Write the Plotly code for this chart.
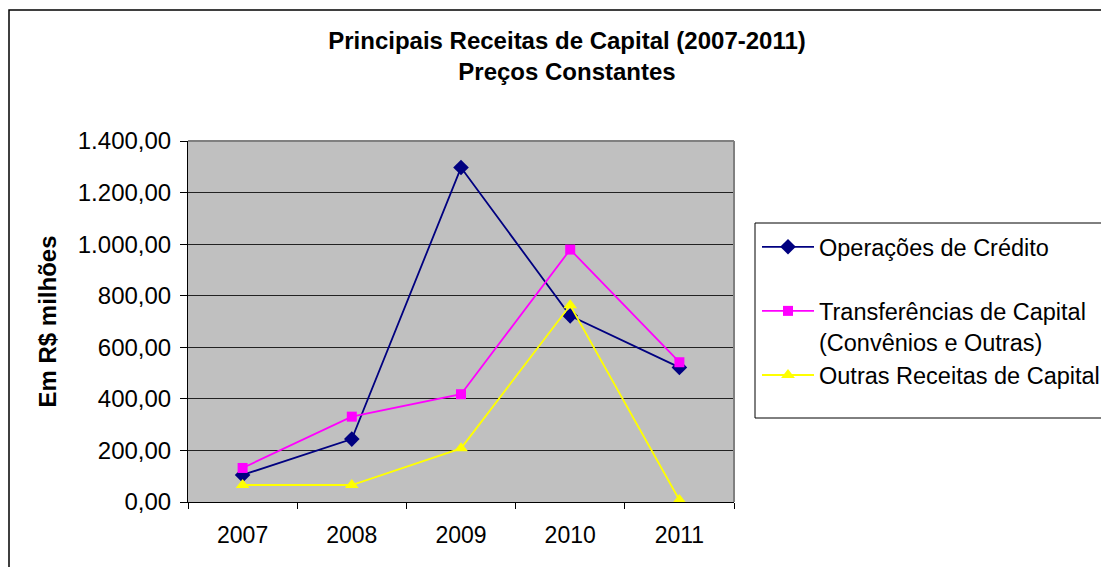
import plotly.graph_objects as go

years = ["2007", "2008", "2009", "2010", "2011"]
operacoes = [105, 244, 1297, 722, 522]
transferencias = [132, 331, 418, 979, 542]
outras = [66, 66, 208, 763, 8]

names = ["Operações de Crédito",
         "Transferências de Capital<br>(Convênios e Outras)",
         "Outras Receitas de Capital"]

FONT = "Liberation Sans, Arial, sans-serif"
OFF = 8  # default page body margin
W, H = 1109 - OFF, 567 - OFF
L, R, T, B = 188 - OFF, 734 - OFF, 141 - OFF, 502 - OFF

fig = go.Figure()
fig.add_trace(go.Scatter(x=years, y=operacoes, name=names[0] + "<br> ", mode="lines+markers",
                         line=dict(color="#000080", width=1.8),
                         marker=dict(symbol="diamond", size=12, color="#000080"),
                         legendgroup="a"))
fig.add_trace(go.Scatter(x=years, y=transferencias, name=names[1], mode="lines+markers",
                         line=dict(color="#FF00FF", width=1.8),
                         marker=dict(symbol="square", size=10, color="#FF00FF"),
                         legendgroup="b"))
fig.add_trace(go.Scatter(x=years, y=outras, name=names[2], mode="lines+markers",
                         line=dict(color="#FFFF00", width=1.8),
                         marker=dict(symbol="triangle-up", size=12, color="#FFFF00"),
                         legendgroup="c"))

def px(x):
    return (x - OFF - L) / (R - L)

def py(y):
    return (B - (y - OFF)) / (B - T)

fig.update_layout(
    width=W, height=H,
    margin=dict(l=L, r=W - R, t=T, b=H - B, autoexpand=False),
    paper_bgcolor="white",
    plot_bgcolor="#C0C0C0",
    separators=",.",
    font=dict(family=FONT, size=23, color="black"),
    title=dict(text="<b>Principais Receitas de Capital (2007-2011)<br>Preços Constantes</b>",
               x=(567 - OFF) / W, xanchor="center", xref="container",
               y=1 - 41 / H, yanchor="top", yref="container",
               font=dict(size=24, family=FONT)),
    showlegend=True,
    legend=dict(x=(757 - OFF) / W, y=1 - (225 - OFF) / H, xref="container", yref="container",
                xanchor="left", yanchor="top",
                bgcolor="rgba(0,0,0,0)", borderwidth=0,
                font=dict(size=23.5, family=FONT),
                tracegroupgap=0, valign="top", itemwidth=52),
    xaxis=dict(type="category", range=[-0.5, 4.5], tickson="boundaries",
               showline=True, linecolor="black", linewidth=1,
               ticks="outside", ticklen=6, tickcolor="black",
               showgrid=False, zeroline=False, ticklabelstandoff=12,
               tickfont=dict(size=23), automargin=False),
    yaxis=dict(range=[0, 1400], dtick=200, tickformat=",.2f",
               showline=True, linecolor="black", linewidth=1,
               ticks="outside", ticklen=7, tickcolor="black",
               gridcolor="#222222", gridwidth=1, zeroline=False,
               ticklabelstandoff=4, automargin=False,
               tickfont=dict(size=24),
               title=dict(text="<b>Em R$ milhões</b>", font=dict(size=24), standoff=14)),
    shapes=[
        dict(type="line", xref="paper", yref="paper", x0=0, x1=1, y0=1, y1=1,
             line=dict(color="#808080", width=2)),
        dict(type="line", xref="paper", yref="paper", x0=1, x1=1, y0=0, y1=1,
             line=dict(color="#808080", width=2)),
        dict(type="rect", xref="paper", yref="paper", x0=px(755), x1=px(1125),
             y0=py(418), y1=py(223), line=dict(color="black", width=1)),
        dict(type="rect", xref="paper", yref="paper", x0=px(9), x1=px(1130),
             y0=py(590), y1=py(10), line=dict(color="black", width=1.5)),
    ],
)

fig.write_html("out.html")
